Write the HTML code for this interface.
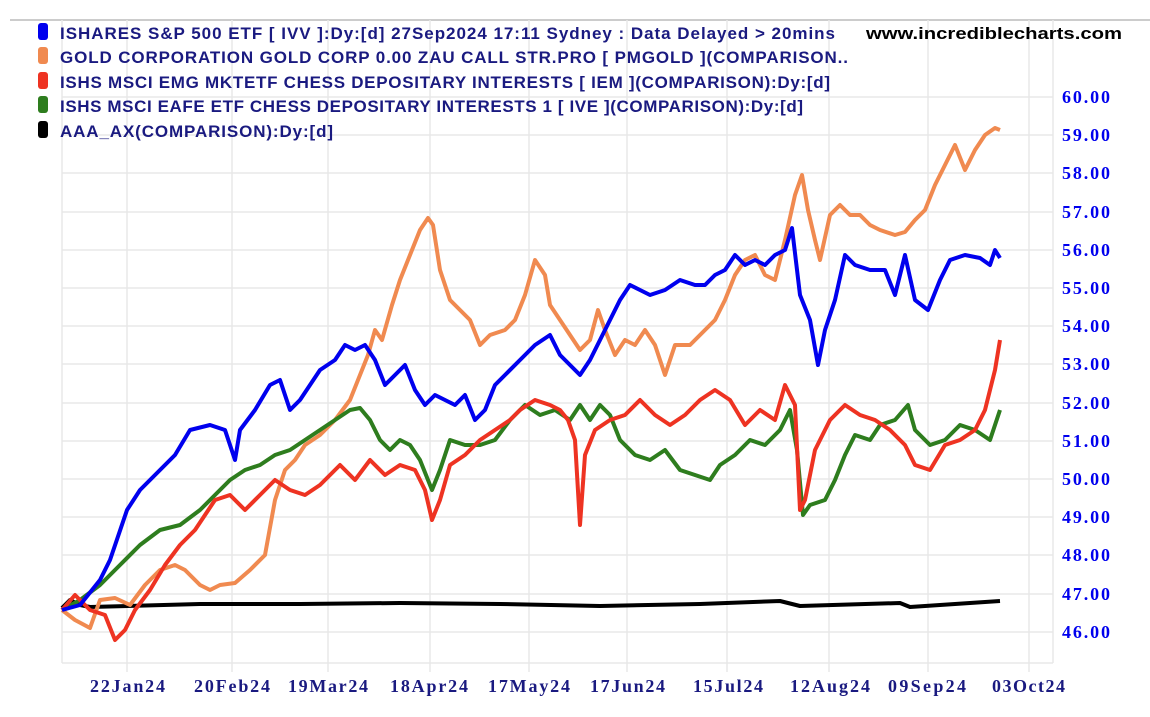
<!DOCTYPE html><html><head><style>body{margin:0;background:#fff;width:1150px;height:712px;overflow:hidden}</style></head><body>
<svg width="1150" height="712" xmlns="http://www.w3.org/2000/svg" font-family="Liberation Sans, sans-serif">
<line x1="10" y1="20" x2="1150" y2="20" stroke="#999" stroke-width="1"/>
<g stroke="#e8e8e8" stroke-width="1.5">
<line x1="62" y1="20" x2="62" y2="663"/><line x1="1053" y1="20" x2="1053" y2="663"/><line x1="62" y1="663" x2="1053" y2="663"/>
<line x1="127" y1="20" x2="127" y2="672"/><line x1="232" y1="20" x2="232" y2="672"/><line x1="328" y1="20" x2="328" y2="672"/><line x1="430" y1="20" x2="430" y2="672"/><line x1="529" y1="20" x2="529" y2="672"/><line x1="627" y1="20" x2="627" y2="672"/><line x1="727" y1="20" x2="727" y2="672"/><line x1="829" y1="20" x2="829" y2="672"/><line x1="928" y1="20" x2="928" y2="672"/><line x1="1029" y1="20" x2="1029" y2="672"/>
<line x1="62" y1="97" x2="1053" y2="97"/><line x1="62" y1="135" x2="1053" y2="135"/><line x1="62" y1="173" x2="1053" y2="173"/><line x1="62" y1="212" x2="1053" y2="212"/><line x1="62" y1="250" x2="1053" y2="250"/><line x1="62" y1="288" x2="1053" y2="288"/><line x1="62" y1="326" x2="1053" y2="326"/><line x1="62" y1="364" x2="1053" y2="364"/><line x1="62" y1="403" x2="1053" y2="403"/><line x1="62" y1="441" x2="1053" y2="441"/><line x1="62" y1="479" x2="1053" y2="479"/><line x1="62" y1="517" x2="1053" y2="517"/><line x1="62" y1="555" x2="1053" y2="555"/><line x1="62" y1="594" x2="1053" y2="594"/><line x1="62" y1="632" x2="1053" y2="632"/>
</g>
<g font-family="Liberation Serif, serif" font-weight="bold" font-size="18" fill="#0000ee" lengthAdjust="spacingAndGlyphs">
<text x="1062" y="103" textLength="48">60.00</text><text x="1062" y="141" textLength="48">59.00</text><text x="1062" y="179" textLength="48">58.00</text><text x="1062" y="218" textLength="48">57.00</text><text x="1062" y="256" textLength="48">56.00</text><text x="1062" y="294" textLength="48">55.00</text><text x="1062" y="332" textLength="48">54.00</text><text x="1062" y="370" textLength="48">53.00</text><text x="1062" y="409" textLength="48">52.00</text><text x="1062" y="447" textLength="48">51.00</text><text x="1062" y="485" textLength="48">50.00</text><text x="1062" y="523" textLength="48">49.00</text><text x="1062" y="561" textLength="48">48.00</text><text x="1062" y="600" textLength="48">47.00</text><text x="1062" y="638" textLength="48">46.00</text>
</g>
<g font-family="Liberation Serif, serif" font-weight="bold" font-size="18" fill="#1a1a80">
<text x="90" y="692" textLength="75">22Jan24</text><text x="194" y="692" textLength="76">20Feb24</text><text x="288" y="692" textLength="80">19Mar24</text><text x="390" y="692" textLength="78">18Apr24</text><text x="488" y="692" textLength="82">17May24</text><text x="590" y="692" textLength="75">17Jun24</text><text x="693" y="692" textLength="70">15Jul24</text><text x="790" y="692" textLength="80">12Aug24</text><text x="888" y="692" textLength="78">09Sep24</text><text x="992" y="692" textLength="73">03Oct24</text>
</g>
<g fill="none" stroke-width="4" stroke-linejoin="round">
<polyline stroke="#000" points="62,608 70,600 80,605 90,607 200,604 300,604 400,603 500,604 600,606 700,604 780,601 800,606 900,603 910,607 1000,601"/>
<polyline stroke="#f08a50" points="62,610 75,620 90,628 100,600 115,598 130,605 145,585 160,570 175,565 185,570 200,585 210,590 220,585 235,583 250,570 265,555 275,500 285,470 295,460 305,445 320,435 335,420 350,400 360,375 368,355 375,330 382,340 392,305 400,280 410,255 420,230 428,218 433,225 440,270 450,300 460,310 470,320 480,345 490,335 505,330 515,320 525,295 535,260 545,275 550,305 560,320 570,335 580,350 590,340 598,310 605,330 615,355 625,340 635,345 645,330 655,345 665,375 675,345 690,345 705,330 715,320 725,300 735,275 745,260 755,255 765,275 775,280 785,240 795,195 802,175 808,210 815,240 820,260 830,215 840,205 850,215 860,215 870,225 880,230 895,235 905,232 915,220 925,210 935,185 945,165 955,145 965,170 975,150 985,135 995,128 1000,130"/>
<polyline stroke="#2e7d1e" points="62,610 80,600 100,585 120,565 140,545 160,530 180,525 200,510 215,495 230,480 245,470 260,465 275,455 290,450 305,440 320,430 335,420 350,410 360,408 370,420 380,440 390,450 400,440 410,445 420,460 432,490 440,470 450,440 465,445 480,445 495,440 510,420 525,405 540,415 555,410 570,420 580,405 590,420 600,405 610,415 620,440 635,455 650,460 665,450 680,470 695,475 710,480 720,465 735,455 750,440 765,445 780,430 790,410 797,450 803,515 810,505 825,500 835,480 845,455 855,435 870,440 880,425 895,420 908,405 915,430 930,445 945,440 960,425 975,430 990,440 1000,410"/>
<polyline stroke="#ee3322" points="62,610 75,595 90,610 105,615 115,640 125,630 135,610 150,590 165,565 180,545 195,530 205,515 215,500 230,495 245,510 260,495 275,480 290,490 305,495 320,485 340,465 355,480 370,460 385,475 400,465 415,470 425,490 432,520 440,500 450,465 465,455 480,440 495,430 510,420 520,410 535,400 550,405 560,410 568,420 575,440 580,525 585,455 595,430 610,420 625,415 640,400 655,415 670,425 685,415 700,400 715,390 730,400 745,425 760,410 775,420 785,385 795,405 800,510 805,500 815,450 830,420 845,405 860,415 875,420 890,430 905,445 915,465 930,470 945,445 960,440 975,430 985,410 995,370 1000,340"/>
<polyline stroke="#0000ee" points="62,610 80,605 100,580 110,560 127,510 140,490 160,470 175,455 190,430 210,425 225,430 235,460 240,430 255,410 270,385 280,380 290,410 300,400 320,370 335,360 345,345 355,350 365,345 375,360 385,385 395,375 405,365 415,390 425,405 435,395 445,400 455,405 465,395 475,420 485,410 495,385 505,375 520,360 535,345 550,335 560,355 570,365 580,375 590,360 600,340 610,320 620,300 630,285 640,290 650,295 665,290 680,280 695,285 705,285 715,275 725,270 735,255 745,265 755,260 765,265 775,255 785,250 792,228 800,295 810,320 818,365 825,330 835,300 845,255 855,265 870,270 885,270 895,295 905,255 915,300 928,310 940,280 950,260 965,255 980,258 990,265 995,250 1000,258"/>
</g>
<g font-size="17" font-weight="bold" fill="#1a1a80" lengthAdjust="spacingAndGlyphs">
<rect x="38" y="23" width="10" height="17" rx="3" fill="#0000ee"/><text x="60" y="39" textLength="775">ISHARES S&amp;P 500 ETF [ IVV ]:Dy:[d]  27Sep2024 17:11 Sydney : Data Delayed &gt; 20mins</text>
<rect x="38" y="47" width="10" height="17" rx="3" fill="#f08a50"/><text x="60" y="63" textLength="788">GOLD CORPORATION GOLD CORP 0.00 ZAU CALL STR.PRO [ PMGOLD ](COMPARISON..</text>
<rect x="38" y="72" width="10" height="17" rx="3" fill="#ee3322"/><text x="60" y="88" textLength="770">ISHS MSCI EMG MKTETF CHESS DEPOSITARY INTERESTS [ IEM ](COMPARISON):Dy:[d]</text>
<rect x="38" y="96" width="10" height="17" rx="3" fill="#2e7d1e"/><text x="60" y="112" textLength="743">ISHS MSCI EAFE ETF CHESS DEPOSITARY INTERESTS 1 [ IVE ](COMPARISON):Dy:[d]</text>
<rect x="38" y="121" width="10" height="17" rx="3" fill="#000"/><text x="60" y="137" textLength="273">AAA_AX(COMPARISON):Dy:[d]</text>
</g>
<text x="866" y="39" font-weight="bold" font-size="17" fill="#000" textLength="256" lengthAdjust="spacingAndGlyphs">www.incrediblecharts.com</text>
</svg>
</body></html>
